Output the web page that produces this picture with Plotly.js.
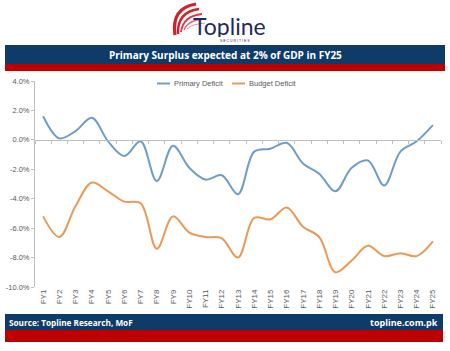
<!DOCTYPE html>
<html>
<head>
<meta charset="utf-8">
<script src="https://cdn.plot.ly/plotly-3.0.1.min.js"></script>
<style>html,body{margin:0;padding:0;background:#fff;}#chart{width:450px;height:351px;}</style>
</head>
<body>
<div id="chart"></div>
<script>
const categories = ["FY1","FY2","FY3","FY4","FY5","FY6","FY7","FY8","FY9","FY10","FY11","FY12","FY13","FY14","FY15","FY16","FY17","FY18","FY19","FY20","FY21","FY22","FY23","FY24","FY25"];
const seriesNames = ["Primary Deficit","Budget Deficit"];
const primaryDeficit = [1.6,0.1,0.6,1.5,-0.1,-1.1,-0.1,-2.8,-0.4,-1.9,-2.7,-2.4,-3.7,-0.8,-0.6,-0.2,-1.6,-2.3,-3.5,-1.9,-1.4,-3.1,-0.8,-0.1,1.0];
const budgetDeficit = [-5.2,-6.6,-4.5,-2.9,-3.5,-4.2,-4.3,-7.4,-5.2,-6.3,-6.6,-6.7,-8.0,-5.3,-5.4,-4.6,-5.9,-6.6,-9.0,-8.2,-7.2,-7.9,-7.7,-7.9,-6.9];
const yTickVals = [4,2,0,-2,-4,-6,-8,-10];
const yTickText = ["4.0%","2.0%","0.0%","-2.0%","-4.0%","-6.0%","-8.0%","-10.0%"];
const titleText = "Primary Surplus expected at 2% of GDP in FY25";
const sourceText = "Source: Topline Research, MoF";
const siteText = "topline.com.pk";

const W = 450, H = 351;
const M = {l:35, r:9, t:81, b:64};
const pw = W - M.l - M.r, ph = H - M.t - M.b;
const px = x => (x - M.l) / pw;
const py = y => (H - M.b - y) / ph;

const yMin = -10, yMax = 4;
const zeroPos = (0 - yMin) / (yMax - yMin);

const blue = "#6f9dc6", orange = "#e99a57";
const navy = "#0f3b69", red = "#c00000";
function rect(x0,y0,x1,y1,color){
  return {type:"rect", xref:"paper", yref:"paper", x0:px(x0), x1:px(x1), y0:py(y1), y1:py(y0), fillcolor:color, line:{width:0}, layer:"below"};
}
function hline(x0,x1,y,color,width){
  return {type:"line", xref:"paper", yref:"paper", x0:px(x0), x1:px(x1), y0:py(y), y1:py(y), line:{color:color, width:width}};
}
function pathP(pts, color, width){
  let d = "";
  pts.forEach((p,i)=>{ d += (i===0?"M":(p.length===4?"Q":"L")); d += p.length===4 ? `${px(p[0])},${py(p[1])} ${px(p[2])},${py(p[3])} ` : `${px(p[0])},${py(p[1])} `; });
  return {type:"path", xref:"paper", yref:"paper", path:d.trim(), line:{color:color, width:width}, fillcolor:"rgba(0,0,0,0)"};
}
const shapes = [
  rect(5,45,445,64,navy), rect(5,64,445,71,red),
  rect(5,314,443,330,navy), rect(5,330,443,342,red),
  // swoosh logo
  pathP([[175,35],[171,8,196,4]], "#d4202a", 3.2),
  pathP([[178,34],[177,12,199,9]], "#d4202a", 2.4),
  pathP([[181,32],[183,16,202,14]], "#dc3a44", 1.8),
  pathP([[184,30],[188,20,204,19]], "#e4646b", 1.3),
  pathP([[187,29],[192,24,205,23]], "#ec9095", 1),
  // legend keys
  hline(157,170,83.5,blue,2),
  hline(232,245,83.5,orange,2)
];

const annotations = [
  {xref:"paper", yref:"paper", x:px(225), y:py(55), text:"<b>"+titleText+"</b>", showarrow:false, font:{family:"Open Sans, Liberation Sans, sans-serif", size:10, color:"#ffffff"}, xanchor:"center", yanchor:"middle"},
  {xref:"paper", yref:"paper", x:px(7), y:py(322), text:"<b>"+sourceText+"</b>", showarrow:false, font:{family:"Open Sans, Liberation Sans, sans-serif", size:8.2, color:"#ffffff"}, xanchor:"left", yanchor:"middle"},
  {xref:"paper", yref:"paper", x:px(440), y:py(322), text:"<b>"+siteText+"</b>", showarrow:false, font:{family:"Open Sans, Liberation Sans, sans-serif", size:9, color:"#ffffff"}, xanchor:"right", yanchor:"middle"},
  {xref:"paper", yref:"paper", x:px(229), y:py(25.5), text:"Topline", showarrow:false, height:22, font:{family:"Lato, Open Sans, sans-serif", size:23, color:"#1f2b5e"}, xanchor:"center", yanchor:"middle"},
  {xref:"paper", yref:"paper", x:px(235), y:py(41.5), text:"S E C U R I T I E S", showarrow:false, height:4, font:{family:"Liberation Sans, sans-serif", size:3.5, color:"#1f2b5e"}, xanchor:"center", yanchor:"middle"},
  {xref:"paper", yref:"paper", x:px(171.5), y:py(83.5), text:seriesNames[0], showarrow:false, font:{family:"Liberation Sans, Arial, sans-serif", size:7.5, color:"#595959"}, xanchor:"left", yanchor:"middle"},
  {xref:"paper", yref:"paper", x:px(246.5), y:py(83.5), text:seriesNames[1], showarrow:false, font:{family:"Liberation Sans, Arial, sans-serif", size:7.5, color:"#595959"}, xanchor:"left", yanchor:"middle"}
];

const traces = [
  {x:categories, y:primaryDeficit, name:seriesNames[0], type:"scatter", mode:"lines", line:{color:blue, width:2, shape:"spline", smoothing:1}},
  {x:categories, y:budgetDeficit, name:seriesNames[1], type:"scatter", mode:"lines", line:{color:orange, width:2, shape:"spline", smoothing:1}},
  {x:categories, y:categories.map(()=>null), xaxis:"x2", showlegend:false, hoverinfo:"skip", mode:"lines"}
];

const layout = {
  width:W, height:H,
  margin:M,
  paper_bgcolor:"#ffffff", plot_bgcolor:"#ffffff",
  font:{family:"Liberation Sans, Arial, sans-serif", size:7.5, color:"#595959"},
  showlegend:false,
  xaxis:{type:"category", range:[-0.5,24.5], tickangle:-90, showgrid:false, zeroline:false, showline:false, ticks:"", tickfont:{size:8, color:"#595959"}, fixedrange:true},
  xaxis2:{type:"category", overlaying:"x", anchor:"free", position:zeroPos, range:[-0.5,24.5], showline:true, linecolor:"#bfbfbf", linewidth:1, ticks:"outside", ticklen:3, tickcolor:"#bfbfbf", tickson:"boundaries", showticklabels:false, showgrid:false, zeroline:false, side:"bottom"},
  yaxis:{range:[yMin,yMax], tickvals:yTickVals, ticktext:yTickText, showgrid:false, zeroline:false, showline:true, linecolor:"#bfbfbf", linewidth:1, ticks:"outside", ticklen:3, tickcolor:"#bfbfbf", tickfont:{size:7.5, color:"#595959"}, fixedrange:true},
  shapes:shapes,
  annotations:annotations
};
Plotly.newPlot("chart", traces, layout, {displayModeBar:false, staticPlot:true});
</script>
</body>
</html>
